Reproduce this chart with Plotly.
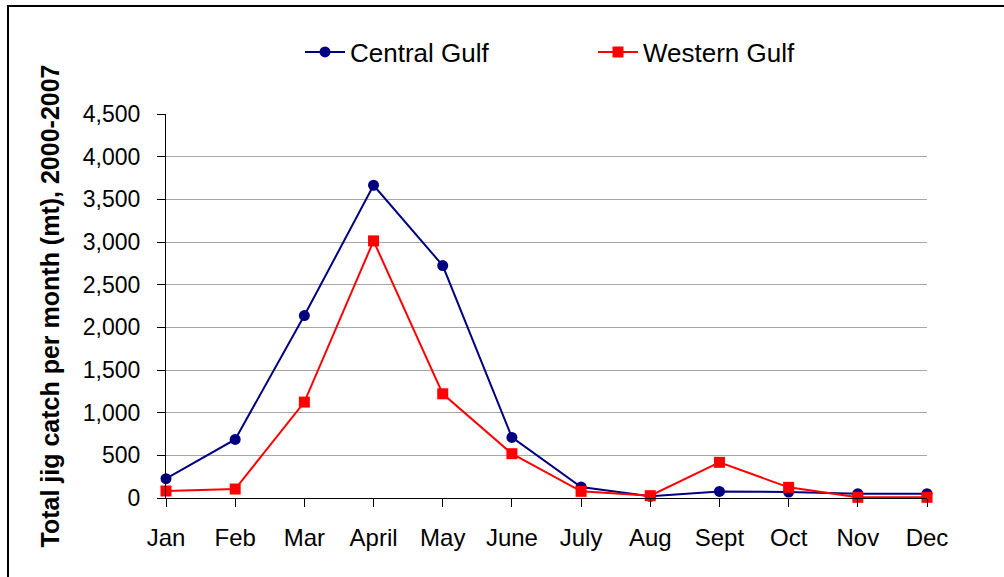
import plotly.graph_objects as go

months = ["Jan", "Feb", "Mar", "April", "May", "June", "July", "Aug", "Sept", "Oct", "Nov", "Dec"]
central_gulf = [226, 686, 2138, 3665, 2724, 710, 129, 20, 77, 70, 50, 50]
western_gulf = [82, 105, 1124, 3013, 1221, 519, 78, 27, 418, 125, 8, 8]
y_ticks = [0, 500, 1000, 1500, 2000, 2500, 3000, 3500, 4000, 4500]
y_title = "Total jig catch per month (mt), 2000-2007"

FONT = "Liberation Sans, Arial, sans-serif"

fig = go.Figure()
fig.add_trace(go.Scatter(
    x=months, y=central_gulf, name="Central Gulf", mode="lines+markers",
    line=dict(color="#000080", width=2),
    marker=dict(symbol="circle", size=11, color="#000080"),
    cliponaxis=False,
))
fig.add_trace(go.Scatter(
    x=months, y=western_gulf, name="Western Gulf", mode="lines+markers",
    line=dict(color="#FF0000", width=2),
    marker=dict(symbol="square", size=11, color="#FF0000"),
    cliponaxis=False,
))

# body margin is removed in the page (post_script), so screen px == figure px
W, H = 1004, 577
L, T = 166, 114
R = W - 927
B = H - 498
pw, ph = W - L - R, H - T - B

def px_x(x):
    return (x - L) / pw

def px_y(y):
    return (H - B - y) / ph

fig.update_layout(
    width=W, height=H,
    margin=dict(l=L, r=R, t=T, b=B, autoexpand=False),
    paper_bgcolor="white", plot_bgcolor="white",
    font=dict(family=FONT, size=24, color="black"),
    showlegend=True,
    legend=dict(
        orientation="h", x=px_x(300), xanchor="left", y=px_y(52), yanchor="middle",
        font=dict(size=26), bgcolor="rgba(0,0,0,0)", entrywidth=238,
        itemwidth=40,
    ),
    xaxis=dict(
        type="category", range=[0, 11], showgrid=False,
        showline=True, linecolor="black", linewidth=1,
        ticks="outside", ticklen=8, tickcolor="black",
        tickfont=dict(size=24), ticklabelstandoff=10,
        zeroline=False,
    ),
    yaxis=dict(
        range=[0, 4500], tickvals=y_ticks, tickformat=",d",
        showgrid=True, gridcolor="#a6a6a6", gridwidth=1,
        showline=True, linecolor="black", linewidth=1,
        ticks="outside", ticklen=8, tickcolor="black",
        tickfont=dict(size=23), ticklabelstandoff=12,
        zeroline=False,
        title=dict(text=y_title, font=dict(size=25, family=FONT, weight="bold"), standoff=16),
    ),
    shapes=[dict(
        type="rect", xref="paper", yref="paper",
        x0=px_x(8), x1=px_x(1012), y0=px_y(585), y1=px_y(6),
        line=dict(color="black", width=2), fillcolor="rgba(0,0,0,0)", layer="below",
    )],
)

fig.write_html(
    "out.html",
    config={"displayModeBar": False},
    post_script="document.body.style.margin='0px'; document.body.style.overflow='hidden';",
)
